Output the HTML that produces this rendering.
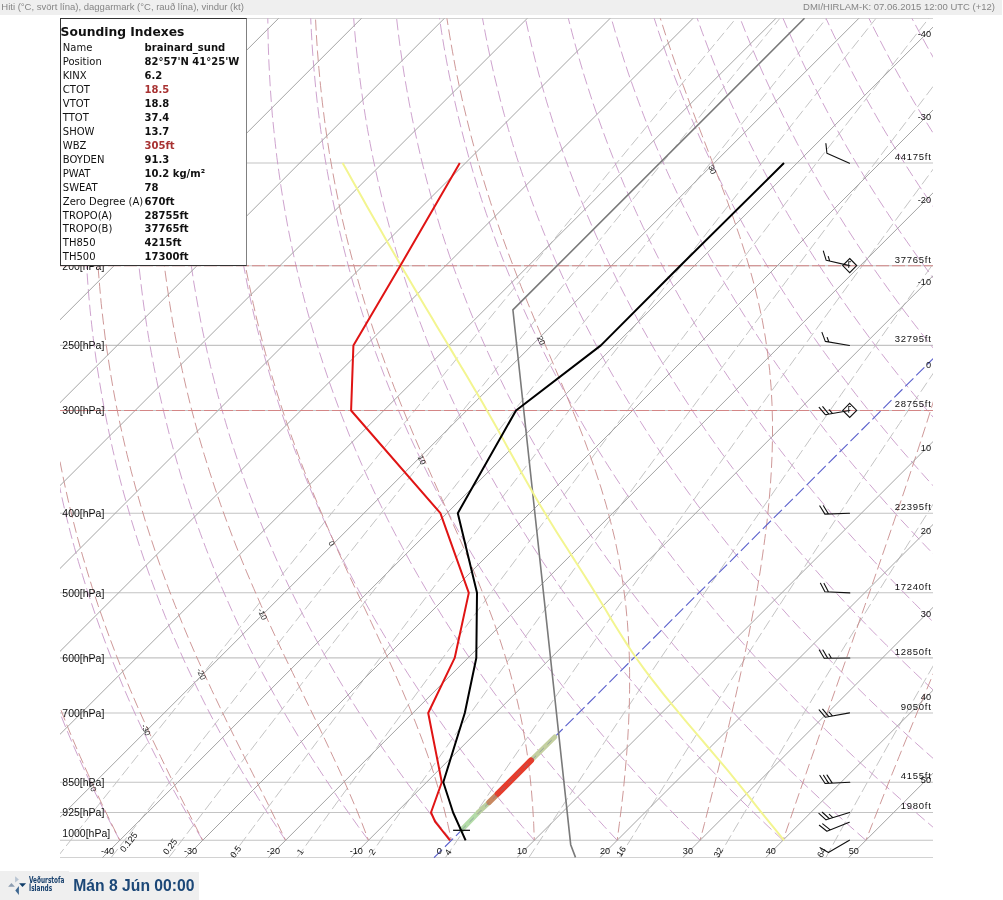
<!DOCTYPE html>
<html><head><meta charset="utf-8"><style>
html,body{margin:0;padding:0;background:#fff;width:1003px;height:900px;overflow:hidden;position:relative}
.hdr{position:absolute;left:0;top:0;width:1001.6px;height:14.5px;background:#efefef}
.hdr span{position:absolute;top:1.2px;font:9.5px/11px "Liberation Sans",Arial,sans-serif;color:#858585;white-space:nowrap}
.box{position:absolute;left:60px;top:18px;width:185px;height:246px;background:#fff;border:1px solid #333;border-right:1.4px solid #808080;z-index:2;font-family:"DejaVu Sans",sans-serif;color:#111}
.ttl{position:absolute;left:-0.4px;top:5.5px;font-weight:bold;font-size:12.3px;line-height:14px;white-space:nowrap}
.r{position:absolute;left:1.8px;height:12px;font-size:10px;line-height:12px;white-space:nowrap}
.r .k{position:absolute;left:0}
.r .v{position:absolute;left:81.8px;font-weight:bold}
.r .v.red{color:#a83232}
.ftl{position:absolute;left:0;top:870.5px;width:69px;height:29.5px;background:#efefef}
.ftr{position:absolute;left:69px;top:871.5px;width:129.5px;height:28.5px;background:#efefef}
.date{position:absolute;left:73.3px;top:877.2px;font:bold 15.7px/18px "Liberation Sans",Arial,sans-serif;color:#1b4777;white-space:nowrap}
.vt{position:absolute;left:29.3px;font:bold 8px/8px "DejaVu Sans Condensed","DejaVu Sans",sans-serif;color:#163f6c;white-space:nowrap;transform-origin:0 0;transform:scaleX(0.8)}
</style></head><body>
<div class="hdr"><span style="left:1.3px">Hiti (°C, svört lína), daggarmark (°C, rauð lína), vindur (kt)</span><span style="right:6.6px">DMI/HIRLAM-K: 07.06.2015 12:00 UTC (+12)</span></div>
<svg width="1003" height="900" viewBox="0 0 1003 900" style="position:absolute;left:0;top:0">
<defs><clipPath id="c"><rect x="60" y="18" width="873" height="840"/></clipPath></defs>
<g clip-path="url(#c)" fill="none">
<path d="M60,857.7 H933 M60,840.3 H933 M60,812.5 H933 M60,782.3 H933 M60,713 H933 M60,657.9 H933 M60,592.8 H933 M60,513.2 H933 M60,410.5 H933 M60,345.4 H933 M60,265.7 H933 M60,163 H933 M60,18.3 H933 " stroke="#c4c4c4" stroke-width="1.1"/>
<path d="M56.9,857.7 L79.7,828.8 L102.6,799.8 L125.6,770.9 L148.5,741.9 L171.6,713 L194.6,684 L217.7,655.1 L240.9,626.1 L264.1,597.2 L287.3,568.3 L310.6,539.3 L333.9,510.4 L357.2,481.4 L380.6,452.5 L404.1,423.5 L427.5,394.6 L451.1,365.6 L474.6,336.7 L498.2,307.7 L521.8,278.8 L545.5,249.8 L569.2,220.9 L592.9,192 L616.7,163 L640.5,134.1 L664.3,105.1 L688.2,76.2 L712.1,47.2 L736,18.3 M111,857.7 L133.4,828.8 L155.9,799.8 L178.4,770.9 L201,741.9 L223.6,713 L246.3,684 L269,655.1 L291.8,626.1 L314.6,597.2 L337.5,568.3 L360.4,539.3 L383.4,510.4 L406.4,481.4 L429.4,452.5 L452.5,423.5 L475.6,394.6 L498.8,365.6 L522,336.7 L545.2,307.7 L568.5,278.8 L591.9,249.8 L615.2,220.9 L638.7,192 L662.1,163 L685.6,134.1 L709.1,105.1 L732.7,76.2 L756.3,47.2 L779.9,18.3 M168.7,857.7 L190.7,828.8 L212.8,799.8 L234.9,770.9 L257,741.9 L279.2,713 L301.5,684 L323.8,655.1 L346.1,626.1 L368.5,597.2 L391,568.3 L413.5,539.3 L436.1,510.4 L458.7,481.4 L481.3,452.5 L504,423.5 L526.8,394.6 L549.6,365.6 L572.4,336.7 L595.3,307.7 L618.2,278.8 L641.2,249.8 L664.2,220.9 L687.3,192 L710.4,163 L733.5,134.1 L756.7,105.1 L779.9,76.2 L803.2,47.2 L826.5,18.3 M230.6,857.7 L252.1,828.8 L273.6,799.8 L295.2,770.9 L316.9,741.9 L338.6,713 L360.4,684 L382.3,655.1 L404.2,626.1 L426.1,597.2 L448.1,568.3 L470.2,539.3 L492.3,510.4 L514.5,481.4 L536.7,452.5 L559,423.5 L581.3,394.6 L603.7,365.6 L626.1,336.7 L648.6,307.7 L671.1,278.8 L693.7,249.8 L716.3,220.9 L739,192 L761.7,163 L784.5,134.1 L807.3,105.1 L830.2,76.2 L853.1,47.2 L876,18.3 M297,857.7 L317.9,828.8 L338.9,799.8 L360,770.9 L381.1,741.9 L402.3,713 L423.6,684 L444.9,655.1 L466.3,626.1 L487.7,597.2 L509.3,568.3 L530.8,539.3 L552.5,510.4 L574.2,481.4 L595.9,452.5 L617.7,423.5 L639.6,394.6 L661.5,365.6 L683.5,336.7 L705.5,307.7 L727.6,278.8 L749.8,249.8 L772,220.9 L794.2,192 L816.5,163 L838.9,134.1 L861.3,105.1 L883.7,76.2 L906.2,47.2 L928.8,18.3 M368.4,857.7 L388.7,828.8 L409.1,799.8 L429.6,770.9 L450.1,741.9 L470.7,713 L491.4,684 L512.1,655.1 L533,626.1 L553.9,597.2 L574.8,568.3 L595.9,539.3 L617,510.4 L638.1,481.4 L659.3,452.5 L680.6,423.5 L702,394.6 L723.4,365.6 L744.9,336.7 L766.4,307.7 L788,278.8 L809.7,249.8 L831.4,220.9 L853.2,192 L875,163 L896.9,134.1 L918.9,105.1 L940.9,76.2 L962.9,47.2 L985.1,18.3 M445.4,857.7 L465.1,828.8 L484.8,799.8 L504.5,770.9 L524.4,741.9 L544.4,713 L564.4,684 L584.5,655.1 L604.7,626.1 L625,597.2 L645.3,568.3 L665.8,539.3 L686.3,510.4 L706.8,481.4 L727.5,452.5 L748.2,423.5 L769,394.6 L789.8,365.6 L810.8,336.7 L831.8,307.7 L852.8,278.8 L874,249.8 L895.1,220.9 L916.4,192 L937.7,163 L959.1,134.1 L980.6,105.1 L1002.1,76.2 L1023.6,47.2 L1045.3,18.3 M528.8,857.7 L547.6,828.8 L566.6,799.8 L585.6,770.9 L604.7,741.9 L624,713 L643.3,684 L662.7,655.1 L682.2,626.1 L701.7,597.2 L721.4,568.3 L741.1,539.3 L761,510.4 L780.9,481.4 L800.9,452.5 L820.9,423.5 L841.1,394.6 L861.3,365.6 L881.6,336.7 L902,307.7 L922.5,278.8 L943,249.8 L963.6,220.9 L984.3,192 L1005,163 L1025.8,134.1 L1046.7,105.1 L1067.7,76.2 L1088.7,47.2 L1109.8,18.3 M619.3,857.7 L637.3,828.8 L655.3,799.8 L673.5,770.9 L691.8,741.9 L710.2,713 L728.7,684 L747.3,655.1 L766,626.1 L784.7,597.2 L803.6,568.3 L822.6,539.3 L841.7,510.4 L860.9,481.4 L880.1,452.5 L899.5,423.5 L918.9,394.6 L938.4,365.6 L958,336.7 L977.7,307.7 L997.5,278.8 L1017.4,249.8 L1037.3,220.9 L1057.4,192 L1077.5,163 L1097.7,134.1 L1117.9,105.1 L1138.3,76.2 L1158.7,47.2 L1179.2,18.3 M717.9,857.7 L734.9,828.8 L752,799.8 L769.2,770.9 L786.5,741.9 L803.9,713 L821.5,684 L839.2,655.1 L857,626.1 L874.9,597.2 L892.9,568.3 L911,539.3 L929.2,510.4 L947.5,481.4 L966,452.5 L984.5,423.5 L1003.1,394.6 L1021.9,365.6 L1040.7,336.7 L1059.6,307.7 L1078.7,278.8 L1097.8,249.8 L1117,220.9 L1136.3,192 L1155.7,163 L1175.2,134.1 L1194.7,105.1 L1214.4,76.2 L1234.1,47.2 L1253.9,18.3 M825.8,857.7 L841.6,828.8 L857.6,799.8 L873.7,770.9 L889.9,741.9 L906.2,713 L922.7,684 L939.4,655.1 L956.1,626.1 L973,597.2 L990,568.3 L1007.2,539.3 L1024.4,510.4 L1041.8,481.4 L1059.3,452.5 L1076.9,423.5 L1094.6,394.6 L1112.5,365.6 L1130.4,336.7 L1148.5,307.7 L1166.7,278.8 L1184.9,249.8 L1203.3,220.9 L1221.8,192 L1240.4,163 L1259,134.1 L1277.8,105.1 L1296.7,76.2 L1315.7,47.2 L1334.7,18.3" stroke="#c4c4c4" stroke-width="1" stroke-dasharray="11,4"/>
<path d="M119.8,840.3 L112.3,826.4 L105,812.4 L98,798.5 L91.2,784.6 L84.7,770.6 L78.3,756.7 L72.2,742.8 L66.3,728.8 L60.7,714.9 L55.2,701 L50,687 L44.9,673.1 L40.1,659.2 L35.5,645.2 L31.1,631.3 L26.9,617.4 L22.9,603.4 L19.1,589.5 L15.5,575.6 L12.1,561.6 L8.9,547.7 L5.9,533.8 L3,519.9 L0.4,505.9 L-2.1,492 L-4.4,478.1 L-6.5,464.1 L-8.4,450.2 L-10.2,436.3 L-11.7,422.3 L-13.1,408.4 L-14.4,394.5 L-15.4,380.5 L-16.3,366.6 L-17.1,352.7 L-17.6,338.7 L-18.1,324.8 L-18.3,310.9 L-18.4,296.9 L-18.4,283 L-18.1,269.1 L-17.8,255.1 L-17.3,241.2 L-16.6,227.3 L-15.8,213.3 L-14.8,199.4 L-13.7,185.5 L-12.5,171.5 L-11.1,157.6 L-9.6,143.7 L-7.9,129.7 L-6.1,115.8 L-4.2,101.9 L-2.1,87.9 L0.1,74 L2.4,60.1 L4.8,46.1 L7.4,32.2 L10.1,18.3 M202.7,840.3 L194.3,826.4 L186.1,812.4 L178.2,798.5 L170.5,784.6 L163.1,770.6 L155.9,756.7 L148.9,742.8 L142.1,728.8 L135.6,714.9 L129.4,701 L123.3,687 L117.5,673.1 L111.8,659.2 L106.4,645.2 L101.2,631.3 L96.3,617.4 L91.5,603.4 L86.9,589.5 L82.6,575.6 L78.4,561.6 L74.5,547.7 L70.7,533.8 L67.2,519.9 L63.8,505.9 L60.7,492 L57.7,478.1 L54.9,464.1 L52.3,450.2 L49.8,436.3 L47.6,422.3 L45.5,408.4 L43.7,394.5 L41.9,380.5 L40.4,366.6 L39,352.7 L37.8,338.7 L36.8,324.8 L36,310.9 L35.3,296.9 L34.7,283 L34.3,269.1 L34.1,255.1 L34.1,241.2 L34.2,227.3 L34.4,213.3 L34.8,199.4 L35.4,185.5 L36.1,171.5 L36.9,157.6 L37.9,143.7 L39,129.7 L40.3,115.8 L41.7,101.9 L43.3,87.9 L45,74 L46.8,60.1 L48.8,46.1 L50.9,32.2 L53.1,18.3 M285.6,840.3 L276.3,826.4 L267.2,812.4 L258.4,798.5 L249.8,784.6 L241.5,770.6 L233.4,756.7 L225.6,742.8 L218,728.8 L210.6,714.9 L203.5,701 L196.6,687 L190,673.1 L183.5,659.2 L177.4,645.2 L171.4,631.3 L165.6,617.4 L160.1,603.4 L154.8,589.5 L149.7,575.6 L144.8,561.6 L140.1,547.7 L135.6,533.8 L131.3,519.9 L127.3,505.9 L123.4,492 L119.7,478.1 L116.2,464.1 L112.9,450.2 L109.8,436.3 L106.9,422.3 L104.2,408.4 L101.7,394.5 L99.3,380.5 L97.1,366.6 L95.2,352.7 L93.3,338.7 L91.7,324.8 L90.2,310.9 L88.9,296.9 L87.8,283 L86.8,269.1 L86,255.1 L85.4,241.2 L84.9,227.3 L84.6,213.3 L84.4,199.4 L84.4,185.5 L84.6,171.5 L84.9,157.6 L85.4,143.7 L86,129.7 L86.7,115.8 L87.6,101.9 L88.7,87.9 L89.9,74 L91.2,60.1 L92.7,46.1 L94.3,32.2 L96,18.3 M368.5,840.3 L358.2,826.4 L348.3,812.4 L338.5,798.5 L329.1,784.6 L319.9,770.6 L310.9,756.7 L302.2,742.8 L293.8,728.8 L285.6,714.9 L277.7,701 L270,687 L262.5,673.1 L255.3,659.2 L248.3,645.2 L241.5,631.3 L235,617.4 L228.7,603.4 L222.6,589.5 L216.7,575.6 L211.1,561.6 L205.7,547.7 L200.5,533.8 L195.5,519.9 L190.7,505.9 L186.1,492 L181.7,478.1 L177.6,464.1 L173.6,450.2 L169.8,436.3 L166.3,422.3 L162.9,408.4 L159.7,394.5 L156.7,380.5 L153.9,366.6 L151.3,352.7 L148.8,338.7 L146.6,324.8 L144.5,310.9 L142.6,296.9 L140.9,283 L139.3,269.1 L137.9,255.1 L136.7,241.2 L135.7,227.3 L134.8,213.3 L134.1,199.4 L133.5,185.5 L133.1,171.5 L132.9,157.6 L132.8,143.7 L132.9,129.7 L133.2,115.8 L133.5,101.9 L134.1,87.9 L134.8,74 L135.6,60.1 L136.6,46.1 L137.7,32.2 L139,18.3 M451.4,840.3 L440.2,826.4 L429.3,812.4 L418.7,798.5 L408.4,784.6 L398.3,770.6 L388.5,756.7 L378.9,742.8 L369.6,728.8 L360.6,714.9 L351.8,701 L343.3,687 L335,673.1 L327,659.2 L319.2,645.2 L311.6,631.3 L304.3,617.4 L297.3,603.4 L290.4,589.5 L283.8,575.6 L277.4,561.6 L271.3,547.7 L265.3,533.8 L259.6,519.9 L254.1,505.9 L248.8,492 L243.8,478.1 L238.9,464.1 L234.3,450.2 L229.8,436.3 L225.6,422.3 L221.6,408.4 L217.7,394.5 L214.1,380.5 L210.6,366.6 L207.4,352.7 L204.3,338.7 L201.4,324.8 L198.8,310.9 L196.3,296.9 L193.9,283 L191.8,269.1 L189.8,255.1 L188,241.2 L186.4,227.3 L185,213.3 L183.7,199.4 L182.6,185.5 L181.7,171.5 L180.9,157.6 L180.3,143.7 L179.9,129.7 L179.6,115.8 L179.4,101.9 L179.5,87.9 L179.7,74 L180,60.1 L180.5,46.1 L181.1,32.2 L181.9,18.3 M534.3,840.3 L522.2,826.4 L510.4,812.4 L498.9,798.5 L487.6,784.6 L476.7,770.6 L466,756.7 L455.6,742.8 L445.4,728.8 L435.6,714.9 L426,701 L416.6,687 L407.5,673.1 L398.7,659.2 L390.1,645.2 L381.8,631.3 L373.7,617.4 L365.8,603.4 L358.2,589.5 L350.9,575.6 L343.8,561.6 L336.9,547.7 L330.2,533.8 L323.8,519.9 L317.6,505.9 L311.6,492 L305.8,478.1 L300.3,464.1 L294.9,450.2 L289.8,436.3 L284.9,422.3 L280.2,408.4 L275.7,394.5 L271.5,380.5 L267.4,366.6 L263.5,352.7 L259.8,338.7 L256.3,324.8 L253,310.9 L249.9,296.9 L247,283 L244.3,269.1 L241.7,255.1 L239.4,241.2 L237.2,227.3 L235.2,213.3 L233.4,199.4 L231.7,185.5 L230.2,171.5 L228.9,157.6 L227.8,143.7 L226.8,129.7 L226,115.8 L225.4,101.9 L224.9,87.9 L224.6,74 L224.4,60.1 L224.4,46.1 L224.5,32.2 L224.8,18.3 M617.2,840.3 L604.2,826.4 L591.5,812.4 L579.1,798.5 L566.9,784.6 L555.1,770.6 L543.5,756.7 L532.3,742.8 L521.3,728.8 L510.6,714.9 L500.1,701 L489.9,687 L480,673.1 L470.4,659.2 L461,645.2 L451.9,631.3 L443,617.4 L434.4,603.4 L426.1,589.5 L418,575.6 L410.1,561.6 L402.5,547.7 L395.1,533.8 L387.9,519.9 L381,505.9 L374.3,492 L367.9,478.1 L361.6,464.1 L355.6,450.2 L349.8,436.3 L344.3,422.3 L338.9,408.4 L333.8,394.5 L328.8,380.5 L324.1,366.6 L319.6,352.7 L315.3,338.7 L311.2,324.8 L307.3,310.9 L303.6,296.9 L300.1,283 L296.8,269.1 L293.6,255.1 L290.7,241.2 L287.9,227.3 L285.4,213.3 L283,199.4 L280.8,185.5 L278.8,171.5 L276.9,157.6 L275.3,143.7 L273.8,129.7 L272.4,115.8 L271.3,101.9 L270.3,87.9 L269.5,74 L268.8,60.1 L268.3,46.1 L268,32.2 L267.8,18.3 M700.1,840.3 L686.2,826.4 L672.5,812.4 L659.2,798.5 L646.2,784.6 L633.5,770.6 L621.1,756.7 L608.9,742.8 L597.1,728.8 L585.5,714.9 L574.3,701 L563.3,687 L552.6,673.1 L542.1,659.2 L531.9,645.2 L522,631.3 L512.4,617.4 L503,603.4 L493.9,589.5 L485,575.6 L476.4,561.6 L468.1,547.7 L459.9,533.8 L452.1,519.9 L444.4,505.9 L437,492 L429.9,478.1 L423,464.1 L416.3,450.2 L409.8,436.3 L403.6,422.3 L397.6,408.4 L391.8,394.5 L386.2,380.5 L380.9,366.6 L375.7,352.7 L370.8,338.7 L366.1,324.8 L361.6,310.9 L357.3,296.9 L353.1,283 L349.2,269.1 L345.5,255.1 L342,241.2 L338.7,227.3 L335.6,213.3 L332.6,199.4 L329.9,185.5 L327.3,171.5 L324.9,157.6 L322.7,143.7 L320.7,129.7 L318.9,115.8 L317.2,101.9 L315.7,87.9 L314.4,74 L313.2,60.1 L312.2,46.1 L311.4,32.2 L310.7,18.3 M783,840.3 L768.1,826.4 L753.6,812.4 L739.4,798.5 L725.5,784.6 L711.9,770.6 L698.6,756.7 L685.6,742.8 L672.9,728.8 L660.5,714.9 L648.4,701 L636.6,687 L625.1,673.1 L613.8,659.2 L602.9,645.2 L592.2,631.3 L581.8,617.4 L571.6,603.4 L561.7,589.5 L552.1,575.6 L542.7,561.6 L533.6,547.7 L524.8,533.8 L516.2,519.9 L507.9,505.9 L499.8,492 L491.9,478.1 L484.3,464.1 L477,450.2 L469.8,436.3 L462.9,422.3 L456.3,408.4 L449.8,394.5 L443.6,380.5 L437.6,366.6 L431.8,352.7 L426.3,338.7 L421,324.8 L415.8,310.9 L410.9,296.9 L406.2,283 L401.7,269.1 L397.4,255.1 L393.3,241.2 L389.5,227.3 L385.8,213.3 L382.3,199.4 L379,185.5 L375.9,171.5 L372.9,157.6 L370.2,143.7 L367.6,129.7 L365.3,115.8 L363.1,101.9 L361.1,87.9 L359.3,74 L357.6,60.1 L356.1,46.1 L354.8,32.2 L353.7,18.3 M865.9,840.3 L850.1,826.4 L834.7,812.4 L819.6,798.5 L804.8,784.6 L790.3,770.6 L776.1,756.7 L762.3,742.8 L748.7,728.8 L735.5,714.9 L722.6,701 L709.9,687 L697.6,673.1 L685.5,659.2 L673.8,645.2 L662.3,631.3 L651.1,617.4 L640.2,603.4 L629.5,589.5 L619.2,575.6 L609.1,561.6 L599.2,547.7 L589.7,533.8 L580.4,519.9 L571.3,505.9 L562.5,492 L554,478.1 L545.7,464.1 L537.6,450.2 L529.8,436.3 L522.3,422.3 L514.9,408.4 L507.8,394.5 L501,380.5 L494.4,366.6 L488,352.7 L481.8,338.7 L475.8,324.8 L470.1,310.9 L464.6,296.9 L459.3,283 L454.2,269.1 L449.3,255.1 L444.7,241.2 L440.2,227.3 L436,213.3 L431.9,199.4 L428.1,185.5 L424.4,171.5 L420.9,157.6 L417.7,143.7 L414.6,129.7 L411.7,115.8 L409,101.9 L406.5,87.9 L404.1,74 L402,60.1 L400,46.1 L398.2,32.2 L396.6,18.3 M948.8,840.3 L932.1,826.4 L915.8,812.4 L899.7,798.5 L884.1,784.6 L868.7,770.6 L853.7,756.7 L839,742.8 L824.6,728.8 L810.5,714.9 L796.7,701 L783.3,687 L770.1,673.1 L757.3,659.2 L744.7,645.2 L732.4,631.3 L720.5,617.4 L708.8,603.4 L697.4,589.5 L686.3,575.6 L675.4,561.6 L664.8,547.7 L654.5,533.8 L644.5,519.9 L634.7,505.9 L625.2,492 L616,478.1 L607,464.1 L598.3,450.2 L589.8,436.3 L581.6,422.3 L573.6,408.4 L565.9,394.5 L558.4,380.5 L551.1,366.6 L544.1,352.7 L537.3,338.7 L530.7,324.8 L524.4,310.9 L518.3,296.9 L512.4,283 L506.7,269.1 L501.2,255.1 L496,241.2 L491,227.3 L486.2,213.3 L481.5,199.4 L477.1,185.5 L472.9,171.5 L468.9,157.6 L465.1,143.7 L461.5,129.7 L458.1,115.8 L454.9,101.9 L451.9,87.9 L449,74 L446.4,60.1 L443.9,46.1 L441.6,32.2 L439.5,18.3 M1031.7,840.3 L1014.1,826.4 L996.8,812.4 L979.9,798.5 L963.3,784.6 L947.1,770.6 L931.2,756.7 L915.6,742.8 L900.4,728.8 L885.5,714.9 L870.9,701 L856.6,687 L842.6,673.1 L829,659.2 L815.6,645.2 L802.6,631.3 L789.8,617.4 L777.4,603.4 L765.2,589.5 L753.3,575.6 L741.7,561.6 L730.4,547.7 L719.4,533.8 L708.7,519.9 L698.2,505.9 L688,492 L678,478.1 L668.4,464.1 L659,450.2 L649.8,436.3 L640.9,422.3 L632.3,408.4 L623.9,394.5 L615.7,380.5 L607.8,366.6 L600.2,352.7 L592.8,338.7 L585.6,324.8 L578.6,310.9 L571.9,296.9 L565.4,283 L559.2,269.1 L553.1,255.1 L547.3,241.2 L541.7,227.3 L536.3,213.3 L531.2,199.4 L526.2,185.5 L521.5,171.5 L516.9,157.6 L512.6,143.7 L508.5,129.7 L504.6,115.8 L500.8,101.9 L497.3,87.9 L493.9,74 L490.8,60.1 L487.8,46.1 L485.1,32.2 L482.5,18.3 M1114.6,840.3 L1096.1,826.4 L1077.9,812.4 L1060.1,798.5 L1042.6,784.6 L1025.5,770.6 L1008.7,756.7 L992.3,742.8 L976.2,728.8 L960.5,714.9 L945,701 L929.9,687 L915.2,673.1 L900.7,659.2 L886.5,645.2 L872.7,631.3 L859.2,617.4 L845.9,603.4 L833,589.5 L820.4,575.6 L808.1,561.6 L796,547.7 L784.3,533.8 L772.8,519.9 L761.6,505.9 L750.7,492 L740.1,478.1 L729.7,464.1 L719.6,450.2 L709.8,436.3 L700.2,422.3 L690.9,408.4 L681.9,394.5 L673.1,380.5 L664.6,366.6 L656.3,352.7 L648.3,338.7 L640.5,324.8 L632.9,310.9 L625.6,296.9 L618.5,283 L611.7,269.1 L605,255.1 L598.6,241.2 L592.5,227.3 L586.5,213.3 L580.8,199.4 L575.3,185.5 L570,171.5 L564.9,157.6 L560.1,143.7 L555.4,129.7 L551,115.8 L546.7,101.9 L542.7,87.9 L538.8,74 L535.2,60.1 L531.7,46.1 L528.5,32.2 L525.4,18.3 M1197.5,840.3 L1178.1,826.4 L1159,812.4 L1140.3,798.5 L1121.9,784.6 L1103.9,770.6 L1086.3,756.7 L1069,742.8 L1052.1,728.8 L1035.5,714.9 L1019.2,701 L1003.3,687 L987.7,673.1 L972.4,659.2 L957.5,645.2 L942.8,631.3 L928.5,617.4 L914.5,603.4 L900.8,589.5 L887.5,575.6 L874.4,561.6 L861.6,547.7 L849.1,533.8 L837,519.9 L825.1,505.9 L813.4,492 L802.1,478.1 L791.1,464.1 L780.3,450.2 L769.8,436.3 L759.6,422.3 L749.6,408.4 L739.9,394.5 L730.5,380.5 L721.3,366.6 L712.4,352.7 L703.7,338.7 L695.3,324.8 L687.2,310.9 L679.3,296.9 L671.6,283 L664.1,269.1 L656.9,255.1 L650,241.2 L643.2,227.3 L636.7,213.3 L630.5,199.4 L624.4,185.5 L618.6,171.5 L613,157.6 L607.6,143.7 L602.4,129.7 L597.4,115.8 L592.6,101.9 L588.1,87.9 L583.7,74 L579.6,60.1 L575.6,46.1 L571.9,32.2 L568.3,18.3 M1280.4,840.3 L1260,826.4 L1240,812.4 L1220.4,798.5 L1201.2,784.6 L1182.3,770.6 L1163.8,756.7 L1145.7,742.8 L1127.9,728.8 L1110.4,714.9 L1093.3,701 L1076.6,687 L1060.2,673.1 L1044.1,659.2 L1028.4,645.2 L1013,631.3 L997.9,617.4 L983.1,603.4 L968.7,589.5 L954.5,575.6 L940.7,561.6 L927.2,547.7 L914,533.8 L901.1,519.9 L888.5,505.9 L876.2,492 L864.2,478.1 L852.4,464.1 L841,450.2 L829.8,436.3 L818.9,422.3 L808.3,408.4 L797.9,394.5 L787.9,380.5 L778.1,366.6 L768.5,352.7 L759.2,338.7 L750.2,324.8 L741.4,310.9 L732.9,296.9 L724.6,283 L716.6,269.1 L708.8,255.1 L701.3,241.2 L694,227.3 L686.9,213.3 L680.1,199.4 L673.5,185.5 L667.1,171.5 L661,157.6 L655,143.7 L649.3,129.7 L643.8,115.8 L638.6,101.9 L633.5,87.9 L628.6,74 L624,60.1 L619.6,46.1 L615.3,32.2 L611.3,18.3 M1363.3,840.3 L1342,826.4 L1321.1,812.4 L1300.6,798.5 L1280.5,784.6 L1260.7,770.6 L1241.4,756.7 L1222.3,742.8 L1203.7,728.8 L1185.4,714.9 L1167.5,701 L1149.9,687 L1132.7,673.1 L1115.8,659.2 L1099.3,645.2 L1083.1,631.3 L1067.2,617.4 L1051.7,603.4 L1036.5,589.5 L1021.6,575.6 L1007.1,561.6 L992.8,547.7 L978.9,533.8 L965.2,519.9 L951.9,505.9 L938.9,492 L926.2,478.1 L913.8,464.1 L901.6,450.2 L889.8,436.3 L878.2,422.3 L867,408.4 L856,394.5 L845.3,380.5 L834.8,366.6 L824.6,352.7 L814.7,338.7 L805.1,324.8 L795.7,310.9 L786.6,296.9 L777.7,283 L769.1,269.1 L760.7,255.1 L752.6,241.2 L744.7,227.3 L737.1,213.3 L729.7,199.4 L722.6,185.5 L715.7,171.5 L709,157.6 L702.5,143.7 L696.3,129.7 L690.3,115.8 L684.5,101.9 L678.9,87.9 L673.5,74 L668.4,60.1 L663.5,46.1 L658.7,32.2 L654.2,18.3 M1446.2,840.3 L1424,826.4 L1402.2,812.4 L1380.8,798.5 L1359.8,784.6 L1339.1,770.6 L1318.9,756.7 L1299,742.8 L1279.5,728.8 L1260.4,714.9 L1241.7,701 L1223.3,687 L1205.2,673.1 L1187.5,659.2 L1170.2,645.2 L1153.2,631.3 L1136.6,617.4 L1120.3,603.4 L1104.3,589.5 L1088.7,575.6 L1073.4,561.6 L1058.4,547.7 L1043.7,533.8 L1029.4,519.9 L1015.4,505.9 L1001.6,492 L988.2,478.1 L975.1,464.1 L962.3,450.2 L949.8,436.3 L937.6,422.3 L925.6,408.4 L914,394.5 L902.6,380.5 L891.6,366.6 L880.8,352.7 L870.2,338.7 L860,324.8 L850,310.9 L840.2,296.9 L830.8,283 L821.6,269.1 L812.6,255.1 L803.9,241.2 L795.5,227.3 L787.3,213.3 L779.4,199.4 L771.7,185.5 L764.2,171.5 L757,157.6 L750,143.7 L743.2,129.7 L736.7,115.8 L730.4,101.9 L724.3,87.9 L718.4,74 L712.8,60.1 L707.4,46.1 L702.2,32.2 L697.2,18.3 M1529.1,840.3 L1506,826.4 L1483.3,812.4 L1461,798.5 L1439,784.6 L1417.5,770.6 L1396.4,756.7 L1375.7,742.8 L1355.4,728.8 L1335.4,714.9 L1315.8,701 L1296.6,687 L1277.7,673.1 L1259.3,659.2 L1241.1,645.2 L1223.4,631.3 L1205.9,617.4 L1188.9,603.4 L1172.2,589.5 L1155.8,575.6 L1139.7,561.6 L1124,547.7 L1108.6,533.8 L1093.5,519.9 L1078.8,505.9 L1064.4,492 L1050.3,478.1 L1036.5,464.1 L1023,450.2 L1009.8,436.3 L996.9,422.3 L984.3,408.4 L972,394.5 L960,380.5 L948.3,366.6 L936.9,352.7 L925.7,338.7 L914.8,324.8 L904.2,310.9 L893.9,296.9 L883.9,283 L874.1,269.1 L864.5,255.1 L855.3,241.2 L846.3,227.3 L837.5,213.3 L829,199.4 L820.7,185.5 L812.7,171.5 L805,157.6 L797.4,143.7 L790.2,129.7 L783.1,115.8 L776.3,101.9 L769.7,87.9 L763.3,74 L757.2,60.1 L751.3,46.1 L745.6,32.2 L740.1,18.3 M1612,840.3 L1588,826.4 L1564.3,812.4 L1541.1,798.5 L1518.3,784.6 L1495.9,770.6 L1474,756.7 L1452.4,742.8 L1431.2,728.8 L1410.4,714.9 L1390,701 L1369.9,687 L1350.3,673.1 L1331,659.2 L1312.1,645.2 L1293.5,631.3 L1275.3,617.4 L1257.5,603.4 L1240,589.5 L1222.8,575.6 L1206,561.6 L1189.6,547.7 L1173.5,533.8 L1157.7,519.9 L1142.2,505.9 L1127.1,492 L1112.3,478.1 L1097.8,464.1 L1083.6,450.2 L1069.8,436.3 L1056.2,422.3 L1043,408.4 L1030,394.5 L1017.4,380.5 L1005,366.6 L993,352.7 L981.2,338.7 L969.7,324.8 L958.5,310.9 L947.6,296.9 L936.9,283 L926.6,269.1 L916.4,255.1 L906.6,241.2 L897,227.3 L887.7,213.3 L878.6,199.4 L869.8,185.5 L861.3,171.5 L853,157.6 L844.9,143.7 L837.1,129.7 L829.5,115.8 L822.2,101.9 L815.1,87.9 L808.2,74 L801.6,60.1 L795.2,46.1 L789,32.2 L783,18.3 M1694.9,840.3 L1669.9,826.4 L1645.4,812.4 L1621.3,798.5 L1597.6,784.6 L1574.3,770.6 L1551.5,756.7 L1529,742.8 L1507,728.8 L1485.4,714.9 L1464.1,701 L1443.3,687 L1422.8,673.1 L1402.7,659.2 L1383,645.2 L1363.6,631.3 L1344.7,617.4 L1326,603.4 L1307.8,589.5 L1289.9,575.6 L1272.4,561.6 L1255.2,547.7 L1238.3,533.8 L1221.8,519.9 L1205.7,505.9 L1189.8,492 L1174.3,478.1 L1159.2,464.1 L1144.3,450.2 L1129.8,436.3 L1115.6,422.3 L1101.7,408.4 L1088.1,394.5 L1074.8,380.5 L1061.8,366.6 L1049.1,352.7 L1036.7,338.7 L1024.6,324.8 L1012.8,310.9 L1001.2,296.9 L990,283 L979,269.1 L968.3,255.1 L957.9,241.2 L947.8,227.3 L937.9,213.3 L928.3,199.4 L918.9,185.5 L909.8,171.5 L901,157.6 L892.4,143.7 L884,129.7 L876,115.8 L868.1,101.9 L860.5,87.9 L853.1,74 L846,60.1 L839.1,46.1 L832.4,32.2 L826,18.3 M1777.8,840.3 L1751.9,826.4 L1726.5,812.4 L1701.5,798.5 L1676.9,784.6 L1652.8,770.6 L1629,756.7 L1605.7,742.8 L1582.8,728.8 L1560.3,714.9 L1538.3,701 L1516.6,687 L1495.3,673.1 L1474.4,659.2 L1453.9,645.2 L1433.8,631.3 L1414,617.4 L1394.6,603.4 L1375.6,589.5 L1357,575.6 L1338.7,561.6 L1320.8,547.7 L1303.2,533.8 L1286,519.9 L1269.1,505.9 L1252.6,492 L1236.4,478.1 L1220.5,464.1 L1205,450.2 L1189.8,436.3 L1174.9,422.3 L1160.3,408.4 L1146.1,394.5 L1132.2,380.5 L1118.5,366.6 L1105.2,352.7 L1092.2,338.7 L1079.5,324.8 L1067,310.9 L1054.9,296.9 L1043.1,283 L1031.5,269.1 L1020.2,255.1 L1009.2,241.2 L998.5,227.3 L988.1,213.3 L977.9,199.4 L968,185.5 L958.4,171.5 L949,157.6 L939.9,143.7 L931,129.7 L922.4,115.8 L914,101.9 L905.9,87.9 L898,74 L890.4,60.1 L883,46.1 L875.8,32.2 L868.9,18.3 M1860.7,840.3 L1833.9,826.4 L1807.5,812.4 L1781.6,798.5 L1756.2,784.6 L1731.2,770.6 L1706.6,756.7 L1682.4,742.8 L1658.7,728.8 L1635.3,714.9 L1612.4,701 L1589.9,687 L1567.8,673.1 L1546.1,659.2 L1524.8,645.2 L1503.9,631.3 L1483.4,617.4 L1463.2,603.4 L1443.5,589.5 L1424.1,575.6 L1405,561.6 L1386.4,547.7 L1368.1,533.8 L1350.1,519.9 L1332.5,505.9 L1315.3,492 L1298.4,478.1 L1281.9,464.1 L1265.7,450.2 L1249.8,436.3 L1234.2,422.3 L1219,408.4 L1204.1,394.5 L1189.5,380.5 L1175.3,366.6 L1161.3,352.7 L1147.7,338.7 L1134.3,324.8 L1121.3,310.9 L1108.6,296.9 L1096.1,283 L1084,269.1 L1072.1,255.1 L1060.6,241.2 L1049.3,227.3 L1038.3,213.3 L1027.5,199.4 L1017.1,185.5 L1006.9,171.5 L997,157.6 L987.3,143.7 L977.9,129.7 L968.8,115.8 L959.9,101.9 L951.3,87.9 L942.9,74 L934.8,60.1 L926.9,46.1 L919.3,32.2 L911.9,18.3 M1943.6,840.3 L1915.9,826.4 L1888.6,812.4 L1861.8,798.5 L1835.5,784.6 L1809.6,770.6 L1784.1,756.7 L1759.1,742.8 L1734.5,728.8 L1710.3,714.9 L1686.6,701 L1663.2,687 L1640.3,673.1 L1617.8,659.2 L1595.7,645.2 L1574,631.3 L1552.7,617.4 L1531.8,603.4 L1511.3,589.5 L1491.1,575.6 L1471.4,561.6 L1452,547.7 L1432.9,533.8 L1414.3,519.9 L1396,505.9 L1378,492 L1360.5,478.1 L1343.2,464.1 L1326.3,450.2 L1309.8,436.3 L1293.6,422.3 L1277.7,408.4 L1262.1,394.5 L1246.9,380.5 L1232,366.6 L1217.4,352.7 L1203.2,338.7 L1189.2,324.8 L1175.6,310.9 L1162.2,296.9 L1149.2,283 L1136.5,269.1 L1124,255.1 L1111.9,241.2 L1100,227.3 L1088.5,213.3 L1077.2,199.4 L1066.2,185.5 L1055.4,171.5 L1045,157.6 L1034.8,143.7 L1024.9,129.7 L1015.2,115.8 L1005.8,101.9 L996.7,87.9 L987.8,74 L979.2,60.1 L970.8,46.1 L962.7,32.2 L954.8,18.3 M2026.5,840.3 L1997.9,826.4 L1969.7,812.4 L1942,798.5 L1914.8,784.6 L1888,770.6 L1861.6,756.7 L1835.8,742.8 L1810.3,728.8 L1785.3,714.9 L1760.7,701 L1736.6,687 L1712.9,673.1 L1689.5,659.2 L1666.6,645.2 L1644.2,631.3 L1622.1,617.4 L1600.4,603.4 L1579.1,589.5 L1558.2,575.6 L1537.7,561.6 L1517.6,547.7 L1497.8,533.8 L1478.4,519.9 L1459.4,505.9 L1440.8,492 L1422.5,478.1 L1404.6,464.1 L1387,450.2 L1369.8,436.3 L1352.9,422.3 L1336.4,408.4 L1320.2,394.5 L1304.3,380.5 L1288.8,366.6 L1273.5,352.7 L1258.7,338.7 L1244.1,324.8 L1229.9,310.9 L1215.9,296.9 L1202.3,283 L1189,269.1 L1175.9,255.1 L1163.2,241.2 L1150.8,227.3 L1138.7,213.3 L1126.8,199.4 L1115.3,185.5 L1104,171.5 L1093,157.6 L1082.3,143.7 L1071.8,129.7 L1061.7,115.8 L1051.7,101.9 L1042.1,87.9 L1032.7,74 L1023.6,60.1 L1014.7,46.1 L1006.1,32.2 L997.7,18.3 M2109.4,840.3 L2079.8,826.4 L2050.8,812.4 L2022.2,798.5 L1994,784.6 L1966.4,770.6 L1939.2,756.7 L1912.4,742.8 L1886.1,728.8 L1860.3,714.9 L1834.9,701 L1809.9,687 L1785.4,673.1 L1761.3,659.2 L1737.6,645.2 L1714.3,631.3 L1691.4,617.4 L1669,603.4 L1646.9,589.5 L1625.3,575.6 L1604,561.6 L1583.2,547.7 L1562.7,533.8 L1542.6,519.9 L1522.9,505.9 L1503.5,492 L1484.5,478.1 L1465.9,464.1 L1447.7,450.2 L1429.8,436.3 L1412.2,422.3 L1395,408.4 L1378.2,394.5 L1361.7,380.5 L1345.5,366.6 L1329.7,352.7 L1314.2,338.7 L1299,324.8 L1284.1,310.9 L1269.6,296.9 L1255.4,283 L1241.4,269.1 L1227.8,255.1 L1214.6,241.2 L1201.6,227.3 L1188.9,213.3 L1176.5,199.4 L1164.4,185.5 L1152.5,171.5 L1141,157.6 L1129.7,143.7 L1118.8,129.7 L1108.1,115.8 L1097.7,101.9 L1087.5,87.9 L1077.6,74 L1068,60.1 L1058.6,46.1 L1049.5,32.2 L1040.7,18.3" stroke="#c898c8" stroke-width="0.9" stroke-dasharray="11.3,4.4"/>
<path d="M119.8,840.3 L111.4,823.5 L103.2,806.7 L95.3,790 L87.6,773.2 L80.1,756.4 L72.9,739.6 L66,722.9 L59.4,706.1 L53.1,689.3 L47.1,672.5 L41.3,655.8 L35.9,639 L30.7,622.2 L25.9,605.4 L21.3,588.7 L17,571.9 L12.9,555.1 L9.2,538.3 L5.7,521.6 L2.5,504.8 L-0.5,488 L-3.1,471.2 L-5.6,454.5 L-7.7,437.7 L-9.7,420.9 L-11.3,404.1 L-12.7,387.3 L-13.9,370.6 L-14.9,353.8 L-15.6,337 L-16,320.2 L-16.3,303.5 L-16.3,286.7 L-16.1,269.9 L-15.6,253.1 L-15,236.4 L-14.1,219.6 L-13.1,202.8 L-11.8,186 L-10.3,169.3 L-8.6,152.5 L-6.7,135.7 L-4.6,118.9 L-2.3,102.2 L0.2,85.4 L2.9,68.6 L5.7,51.8 L13.1,35.1 L29.9,18.3 M202.7,840.3 L194.1,823.5 L185.5,806.7 L177,790 L168.7,773.2 L160.5,756.4 L152.5,739.6 L144.8,722.9 L137.3,706.1 L130.1,689.3 L123.1,672.5 L116.5,655.8 L110.1,639 L104,622.2 L98.1,605.4 L92.6,588.7 L87.4,571.9 L82.4,555.1 L77.7,538.3 L73.4,521.6 L69.2,504.8 L65.4,488 L61.9,471.2 L58.6,454.5 L55.5,437.7 L52.8,420.9 L50.3,404.1 L48,387.3 L46.1,370.6 L44.3,353.8 L42.8,337 L41.6,320.2 L40.6,303.5 L39.8,286.7 L39.3,269.9 L39,253.1 L38.9,236.4 L39,219.6 L39.4,202.8 L40,186 L40.8,169.3 L41.8,152.5 L43,135.7 L44.5,118.9 L46.1,102.2 L47.9,85.4 L50,68.6 L52.2,51.8 L54.6,35.1 L57.2,18.3 M285.6,840.3 L277.5,823.5 L269.3,806.7 L260.9,790 L252.5,773.2 L244.1,756.4 L235.7,739.6 L227.5,722.9 L219.4,706.1 L211.4,689.3 L203.7,672.5 L196.1,655.8 L188.8,639 L181.8,622.2 L175.1,605.4 L168.6,588.7 L162.4,571.9 L156.5,555.1 L150.9,538.3 L145.5,521.6 L140.5,504.8 L135.7,488 L131.2,471.2 L127,454.5 L123.1,437.7 L119.4,420.9 L116,404.1 L112.9,387.3 L110.1,370.6 L107.5,353.8 L105.1,337 L103.1,320.2 L101.2,303.5 L99.7,286.7 L98.3,269.9 L97.2,253.1 L96.4,236.4 L95.8,219.6 L95.4,202.8 L95.2,186 L95.3,169.3 L95.6,152.5 L96.1,135.7 L96.8,118.9 L97.7,102.2 L98.9,85.4 L100.2,68.6 L101.8,51.8 L103.6,35.1 L105.5,18.3 M368.5,840.3 L362.1,823.5 L355.3,806.7 L348.1,790 L340.7,773.2 L332.9,756.4 L325,739.6 L317,722.9 L308.8,706.1 L300.6,689.3 L292.5,672.5 L284.4,655.8 L276.5,639 L268.7,622.2 L261.1,605.4 L253.8,588.7 L246.6,571.9 L239.7,555.1 L233.1,538.3 L226.8,521.6 L220.7,504.8 L214.9,488 L209.4,471.2 L204.2,454.5 L199.2,437.7 L194.6,420.9 L190.2,404.1 L186.1,387.3 L182.3,370.6 L178.7,353.8 L175.4,337 L172.4,320.2 L169.7,303.5 L167.2,286.7 L164.9,269.9 L163,253.1 L161.2,236.4 L159.7,219.6 L158.5,202.8 L157.5,186 L156.7,169.3 L156.2,152.5 L155.9,135.7 L155.8,118.9 L156,102.2 L156.4,85.4 L157,68.6 L157.8,51.8 L158.8,35.1 L160,18.3 M451.4,840.3 L447.7,823.5 L443.5,806.7 L438.8,790 L433.7,773.2 L428.1,756.4 L422.1,739.6 L415.7,722.9 L408.9,706.1 L401.8,689.3 L394.4,672.5 L386.8,655.8 L379,639 L371.2,622.2 L363.3,605.4 L355.4,588.7 L347.6,571.9 L339.9,555.1 L332.4,538.3 L325.1,521.6 L318,504.8 L311.1,488 L304.4,471.2 L298.1,454.5 L292,437.7 L286.1,420.9 L280.6,404.1 L275.3,387.3 L270.3,370.6 L265.6,353.8 L261.2,337 L257,320.2 L253.2,303.5 L249.6,286.7 L246.2,269.9 L243.2,253.1 L240.4,236.4 L237.8,219.6 L235.6,202.8 L233.5,186 L231.8,169.3 L230.2,152.5 L228.9,135.7 L227.9,118.9 L227.1,102.2 L226.5,85.4 L226.2,68.6 L226,51.8 L226.2,35.1 L226.5,18.3 M534.3,840.3 L533.7,823.5 L532.7,806.7 L531.4,790 L529.7,773.2 L527.6,756.4 L525,739.6 L522,722.9 L518.5,706.1 L514.5,689.3 L510.1,672.5 L505.1,655.8 L499.7,639 L493.9,622.2 L487.6,605.4 L481,588.7 L474.1,571.9 L466.9,555.1 L459.5,538.3 L452,521.6 L444.5,504.8 L437,488 L429.5,471.2 L422.1,454.5 L414.8,437.7 L407.8,420.9 L400.9,404.1 L394.2,387.3 L387.8,370.6 L381.7,353.8 L375.8,337 L370.2,320.2 L364.9,303.5 L359.8,286.7 L355.1,269.9 L350.6,253.1 L346.4,236.4 L342.4,219.6 L338.7,202.8 L335.3,186 L332.2,169.3 L329.3,152.5 L326.7,135.7 L324.4,118.9 L322.3,102.2 L320.5,85.4 L318.9,68.6 L317.5,51.8 L316.4,35.1 L315.5,18.3 M617.2,840.3 L619.4,823.5 L621.5,806.7 L623.4,790 L625,773.2 L626.5,756.4 L627.7,739.6 L628.6,722.9 L629.3,706.1 L629.6,689.3 L629.6,672.5 L629.3,655.8 L628.5,639 L627.4,622.2 L625.8,605.4 L623.7,588.7 L621.2,571.9 L618.2,555.1 L614.7,538.3 L610.6,521.6 L606.1,504.8 L601.1,488 L595.6,471.2 L589.7,454.5 L583.5,437.7 L576.9,420.9 L570.1,404.1 L563.2,387.3 L556.1,370.6 L549,353.8 L541.9,337 L534.9,320.2 L528,303.5 L521.2,286.7 L514.7,269.9 L508.3,253.1 L502.2,236.4 L496.3,219.6 L490.7,202.8 L485.4,186 L480.3,169.3 L475.5,152.5 L471,135.7 L466.8,118.9 L462.8,102.2 L459.1,85.4 L455.6,68.6 L452.5,51.8 L449.6,35.1 L446.9,18.3 M700.1,840.3 L704.5,823.5 L708.8,806.7 L713,790 L717.3,773.2 L721.4,756.4 L725.5,739.6 L729.5,722.9 L733.4,706.1 L737.2,689.3 L740.9,672.5 L744.5,655.8 L748,639 L751.2,622.2 L754.4,605.4 L757.3,588.7 L760.1,571.9 L762.6,555.1 L764.9,538.3 L767,521.6 L768.7,504.8 L770.2,488 L771.3,471.2 L772.1,454.5 L772.5,437.7 L772.5,420.9 L772,404.1 L771.1,387.3 L769.7,370.6 L767.7,353.8 L765.3,337 L762.3,320.2 L758.7,303.5 L754.7,286.7 L750.1,269.9 L745.1,253.1 L739.7,236.4 L733.9,219.6 L727.9,202.8 L721.6,186 L715.2,169.3 L708.7,152.5 L702.2,135.7 L695.7,118.9 L689.4,102.2 L683.2,85.4 L677.1,68.6 L671.3,51.8 L665.7,35.1 L660.3,18.3 M783,840.3 L788.8,823.5 L794.5,806.7 L800.3,790 L806.2,773.2 L812,756.4 L817.9,739.6 L823.7,722.9 L829.6,706.1 L835.5,689.3 L841.4,672.5 L847.3,655.8 L853.2,639 L859,622.2 L864.9,605.4 L870.8,588.7 L876.6,571.9 L882.4,555.1 L888.2,538.3 L893.9,521.6 L899.6,504.8 L905.3,488 L910.9,471.2 L916.4,454.5 L921.9,437.7 L927.3,420.9 L932.6,404.1 L937.8,387.3 L942.9,370.6 L947.9,353.8 L952.8,337 L957.6,320.2 L962.2,303.5 L966.6,286.7 L970.8,269.9 L974.9,253.1 L978.7,236.4 L982.3,219.6 L985.6,202.8 L988.6,186 L991.3,169.3 L993.7,152.5 L995.7,135.7 L997.3,118.9 L998.5,102.2 L999.2,85.4 L999.4,68.6 L999.1,51.8 L998.2,35.1 L996.8,18.3 M865.9,840.3 L872.5,823.5 L879.1,806.7 L885.7,790 L892.4,773.2 L899.2,756.4 L906,739.6 L912.9,722.9 L919.8,706.1 L926.8,689.3 L933.8,672.5 L940.8,655.8 L947.9,639 L955,622.2 L962.2,605.4 L969.4,588.7 L976.6,571.9 L983.9,555.1 L991.2,538.3 L998.6,521.6 L1006,504.8 L1013.4,488 L1020.8,471.2 L1028.3,454.5 L1035.8,437.7 L1043.3,420.9 L1050.9,404.1 L1058.5,387.3 L1066.1,370.6 L1073.7,353.8 L1081.3,337 L1088.9,320.2 L1096.6,303.5 L1104.2,286.7 L1111.9,269.9 L1119.6,253.1 L1127.3,236.4 L1135,219.6 L1142.6,202.8 L1150.3,186 L1158,169.3 L1165.7,152.5 L1173.3,135.7 L1181,118.9 L1188.6,102.2 L1196.2,85.4 L1203.8,68.6 L1211.3,51.8 L1218.8,35.1 L1226.3,18.3" stroke="#c88c8c" stroke-width="0.9" stroke-dasharray="11,4.5" stroke-dashoffset="7.7"/>
<path d="M-643.7,857.7 L195.7,18.3 M-560.8,857.7 L278.6,18.3 M-477.9,857.7 L361.5,18.3 M-395,857.7 L444.4,18.3 M-312.1,857.7 L527.3,18.3 M-229.2,857.7 L610.2,18.3 M-146.3,857.7 L693.1,18.3 M-63.4,857.7 L776,18.3 M19.5,857.7 L858.9,18.3 M102.4,857.7 L941.8,18.3 M185.3,857.7 L1024.7,18.3 M268.2,857.7 L1107.6,18.3 M351.1,857.7 L1190.5,18.3 M516.9,857.7 L1356.3,18.3 M599.8,857.7 L1439.2,18.3 M682.7,857.7 L1522.1,18.3 M765.6,857.7 L1605,18.3 M848.5,857.7 L1687.9,18.3" stroke="#a4a4a4" stroke-width="1"/>
<path d="M60,410.48 H933" stroke="#d48686" stroke-width="1.1" stroke-dasharray="13,3"/>
<path d="M60,265.73 H933" stroke="#d48686" stroke-width="1.1" stroke-dasharray="13,3"/>
<path d="M434,857.7 L1273.4,18.3" stroke="#5a60cc" stroke-width="1.1" stroke-dasharray="11.5,4"/>
<path d="M575.5,857.4 L570.7,844.7 L512.9,309.9 L804.5,18.3" stroke="#7a7a7a" stroke-width="1.6"/>
<path d="M342.6,163.03 L347.43,171.6 L352.26,180.17 L357.1,188.75 L361.94,197.32 L366.79,205.89 L371.65,214.47 L376.53,223.04 L381.42,231.61 L386.34,240.19 L391.27,248.76 L396.22,257.33 L401.2,265.9 L406.21,274.48 L411.24,283.05 L416.29,291.62 L421.37,300.2 L426.46,308.77 L431.58,317.34 L436.7,325.92 L441.85,334.49 L447,343.06 L452.16,351.64 L457.32,360.21 L462.47,368.78 L467.6,377.35 L472.69,385.93 L477.74,394.5 L482.74,403.07 L487.67,411.65 L492.52,420.22 L497.32,428.79 L502.07,437.37 L506.81,445.94 L511.53,454.51 L516.27,463.09 L521.03,471.66 L525.83,480.23 L530.69,488.8 L535.63,497.38 L540.67,505.95 L545.81,514.52 L551.07,523.1 L556.43,531.67 L561.86,540.24 L567.34,548.82 L572.84,557.39 L578.33,565.96 L583.81,574.54 L589.23,583.11 L594.58,591.68 L599.84,600.25 L605.04,608.83 L610.23,617.4 L615.46,625.97 L620.79,634.55 L626.26,643.12 L631.93,651.69 L637.83,660.27 L644.01,668.84 L650.43,677.41 L657.06,685.98 L663.88,694.56 L670.85,703.13 L677.95,711.7 L685.14,720.28 L692.4,728.85 L699.7,737.42 L707.01,746 L714.31,754.57 L721.55,763.14 L728.72,771.72 L735.78,780.29 L742.71,788.86 L749.55,797.43 L756.36,806.01 L763.19,814.58 L770.09,823.15 L777.03,831.73 L784,840.3" stroke="#f3f590" stroke-width="2"/>
</g>
<g stroke-linecap="round" fill="none">
<path d="M461.7,829.8 L478.3,812.4" stroke="#b4dca8" stroke-width="5"/>
<path d="M478.3,812.4 L489.1,802.3" stroke="#bcd0a0" stroke-width="5"/>
<path d="M489.1,802.3 L497.8,793.7" stroke="#c88860" stroke-width="5.5"/>
<path d="M531,760.4 L554.8,737" stroke="#c4d0a0" stroke-width="5"/>
<path d="M497.8,793.7 L531,760.4" stroke="#e63c2c" stroke-width="6"/>
</g>
<path d="M461.7,829.8 L554.8,737" stroke="#6a7a9a" stroke-width="0.8" stroke-dasharray="6,5" fill="none" opacity="0.7"/>
<path d="M450,840.3 L435.3,821.99 L431,812.47 L441.8,782.28 L428.2,712.97 L454.7,657.94 L468.8,592.85 L440.4,513.18 L351.1,410.48 L353.4,345.39 L400.3,265.73 L459.8,163.03" fill="none" stroke="#e01414" stroke-width="2" stroke-linejoin="round"/>
<path d="M465.6,840.3 L453.1,812.47 L443.3,782.28 L464.8,712.97 L476.3,657.94 L477,592.85 L457.8,513.18 L516,410.48 L600.9,345.39 L680.3,265.73 L784,163.03" fill="none" stroke="#000" stroke-width="2" stroke-linejoin="round"/>
<path d="M453.1,830.3 H470" stroke="#000" stroke-width="1.2"/>
<path d="M849.5,163.3 L826.9,153.2 M826.9,153.2 l-0.99,-9.55 M849.5,265.6 L826.2,260.3 M826.2,260.3 l-2.84,-9.17 M829.71,261.1 l-1.42,-4.59 M849.5,345.5 L825.3,341.4 M825.3,341.4 l-3.34,-9 M828.85,342 l-1.67,-4.5 M849.5,410.5 L825.3,414.7 M825.3,414.7 l-6.15,-7.37 M828.85,414.08 l-6.15,-7.37 M832.39,413.47 l-3.08,-3.69 M849.5,513.3 L824.9,514.1 M824.9,514.1 l-5.07,-8.15 M828.5,513.98 l-5.07,-8.15 M849.8,592.9 L824.9,591.8 M824.9,591.8 l-4.43,-8.52 M828.5,591.96 l-4.43,-8.52 M849.8,658 L824.2,658.3 M824.2,658.3 l-4.9,-8.26 M827.8,658.26 l-4.9,-8.26 M831.4,658.22 l-2.45,-4.13 M849.5,712.9 L825.3,717.2 M825.3,717.2 l-6.18,-7.35 M828.84,716.57 l-6.18,-7.35 M832.39,715.94 l-3.09,-3.67 M849.8,782.3 L825.1,783.5 M825.1,783.5 l-5.2,-8.07 M828.7,783.33 l-5.2,-8.07 M832.29,783.15 l-5.2,-8.07 M849.5,812.4 L826,819.8 M826,819.8 l-7.08,-6.49 M829.43,818.72 l-7.08,-6.49 M832.87,817.64 l-3.54,-3.24 M849.3,822.3 L826.9,831.2 M826.9,831.2 l-7.53,-5.95 M830.25,829.87 l-7.53,-5.95 M849.4,840.2 L828.4,852.4 M828.4,852.4 l-8.33,-4.78" fill="none" stroke="#111" stroke-width="1.1" stroke-linecap="round" stroke-linejoin="round"/>
<path d="M849.7,258.5 l7,7.1 l-7,7.1 l-7,-7.1 Z" fill="none" stroke="#111" stroke-width="1.1"/>
<path d="M848.3,261.7 H851 M848.7,261.7 V268 M848.7,265.6 H850.3" fill="none" stroke="#222" stroke-width="0.9"/>
<path d="M849.7,403.3 l7,7.1 l-7,7.1 l-7,-7.1 Z" fill="none" stroke="#111" stroke-width="1.1"/>
<path d="M848.3,406.5 H851 M848.7,406.5 V412.8 M848.7,410.4 H850.3" fill="none" stroke="#222" stroke-width="0.9"/>
<g font-family="Liberation Sans, Arial, sans-serif" fill="#111"><text x="62.3" y="816.27" font-size="10.5" text-anchor="start">925[hPa]</text><text x="62.3" y="786.08" font-size="10.5" text-anchor="start">850[hPa]</text><text x="62.3" y="716.77" font-size="10.5" text-anchor="start">700[hPa]</text><text x="62.3" y="661.74" font-size="10.5" text-anchor="start">600[hPa]</text><text x="62.3" y="596.65" font-size="10.5" text-anchor="start">500[hPa]</text><text x="62.3" y="516.98" font-size="10.5" text-anchor="start">400[hPa]</text><text x="62.3" y="414.28" font-size="10.5" text-anchor="start">300[hPa]</text><text x="62.3" y="349.19" font-size="10.5" text-anchor="start">250[hPa]</text><text x="62.3" y="269.53" font-size="10.5" text-anchor="start">200[hPa]</text><text x="62.3" y="836.8" font-size="10.5" text-anchor="start">1000[hPa]</text><text x="931.6" y="160.03" font-size="9.5" text-anchor="end" letter-spacing="0.75">44175ft</text><text x="931.6" y="262.73" font-size="9.5" text-anchor="end" letter-spacing="0.75">37765ft</text><text x="931.6" y="342.39" font-size="9.5" text-anchor="end" letter-spacing="0.75">32795ft</text><text x="931.6" y="407.48" font-size="9.5" text-anchor="end" letter-spacing="0.75">28755ft</text><text x="931.6" y="510.18" font-size="9.5" text-anchor="end" letter-spacing="0.75">22395ft</text><text x="931.6" y="589.85" font-size="9.5" text-anchor="end" letter-spacing="0.75">17240ft</text><text x="931.6" y="654.94" font-size="9.5" text-anchor="end" letter-spacing="0.75">12850ft</text><text x="931.6" y="709.97" font-size="9.5" text-anchor="end" letter-spacing="0.75">9050ft</text><text x="931.6" y="779.28" font-size="9.5" text-anchor="end" letter-spacing="0.75">4155ft</text><text x="931.6" y="809.47" font-size="9.5" text-anchor="end" letter-spacing="0.75">1980ft</text><text x="931" y="36.7" font-size="9.2" text-anchor="end">-40</text><text x="931" y="119.6" font-size="9.2" text-anchor="end">-30</text><text x="931" y="202.5" font-size="9.2" text-anchor="end">-20</text><text x="931" y="285.4" font-size="9.2" text-anchor="end">-10</text><text x="931" y="368.3" font-size="9.2" text-anchor="end">0</text><text x="931" y="451.2" font-size="9.2" text-anchor="end">10</text><text x="931" y="534.1" font-size="9.2" text-anchor="end">20</text><text x="931" y="617" font-size="9.2" text-anchor="end">30</text><text x="931" y="699.9" font-size="9.2" text-anchor="end">40</text><text x="931" y="782.8" font-size="9.2" text-anchor="end">50</text><text x="107.6" y="853.8" font-size="9.1" text-anchor="middle">-40</text><text x="190.5" y="853.8" font-size="9.1" text-anchor="middle">-30</text><text x="273.4" y="853.8" font-size="9.1" text-anchor="middle">-20</text><text x="356.3" y="853.8" font-size="9.1" text-anchor="middle">-10</text><text x="439.2" y="853.8" font-size="9.1" text-anchor="middle">0</text><text x="522.1" y="853.8" font-size="9.1" text-anchor="middle">10</text><text x="605" y="853.8" font-size="9.1" text-anchor="middle">20</text><text x="687.9" y="853.8" font-size="9.1" text-anchor="middle">30</text><text x="770.8" y="853.8" font-size="9.1" text-anchor="middle">40</text><text x="853.7" y="853.8" font-size="9.1" text-anchor="middle">50</text></g>
<g font-family="Liberation Sans, Arial, sans-serif" fill="#111"><text transform="translate(128.6,842) rotate(-52.23)" font-size="8.9" text-anchor="middle" dy="3.2">0.125</text><text transform="translate(170,846.5) rotate(-52.8)" font-size="8.9" text-anchor="middle" dy="3.2">0.25</text><text transform="translate(235.5,851.6) rotate(-53.43)" font-size="8.9" text-anchor="middle" dy="3.2">0.5</text><text transform="translate(300,851.7) rotate(-54.15)" font-size="8.9" text-anchor="middle" dy="3.2">1</text><text transform="translate(372,852) rotate(-54.96)" font-size="8.9" text-anchor="middle" dy="3.2">2</text><text transform="translate(448,852.2) rotate(-55.89)" font-size="8.9" text-anchor="middle" dy="3.2">4</text><text transform="translate(621,851.4) rotate(-58.21)" font-size="8.9" text-anchor="middle" dy="3.2">16</text><text transform="translate(718.3,852.4) rotate(-59.67)" font-size="8.9" text-anchor="middle" dy="3.2">32</text><text transform="translate(821.5,852.5) rotate(-61.4)" font-size="8.9" text-anchor="middle" dy="3.2">64</text></g>
<g font-family="Liberation Sans, Arial, sans-serif" fill="#222"><text transform="translate(92,785.7) rotate(65.16)" font-size="8" text-anchor="middle" dy="2.9">-40</text><text transform="translate(146.1,729.9) rotate(65.28)" font-size="8" text-anchor="middle" dy="2.9">-30</text><text transform="translate(201.5,674) rotate(65.43)" font-size="8" text-anchor="middle" dy="2.9">-20</text><text transform="translate(262.5,614) rotate(65.63)" font-size="8" text-anchor="middle" dy="2.9">-10</text><text transform="translate(331.8,543.4) rotate(65.91)" font-size="8" text-anchor="middle" dy="2.9">0</text><text transform="translate(422,460) rotate(66.33)" font-size="8" text-anchor="middle" dy="2.9">10</text><text transform="translate(541.5,340.4) rotate(67.14)" font-size="8" text-anchor="middle" dy="2.9">20</text><text transform="translate(712.5,169.5) rotate(68.94)" font-size="8" text-anchor="middle" dy="2.9">30</text></g>
</svg>
<div class="box"><div class="ttl">Sounding Indexes</div>
<div class="r" style="top:23.00px"><span class="k">Name</span><span class="v">brainard_sund</span></div>
<div class="r" style="top:37.00px"><span class="k">Position</span><span class="v">82°57'N 41°25'W</span></div>
<div class="r" style="top:51.00px"><span class="k">KINX</span><span class="v">6.2</span></div>
<div class="r" style="top:65.00px"><span class="k">CTOT</span><span class="v red">18.5</span></div>
<div class="r" style="top:79.00px"><span class="k">VTOT</span><span class="v">18.8</span></div>
<div class="r" style="top:93.00px"><span class="k">TTOT</span><span class="v">37.4</span></div>
<div class="r" style="top:107.00px"><span class="k">SHOW</span><span class="v">13.7</span></div>
<div class="r" style="top:121.00px"><span class="k">WBZ</span><span class="v red">305ft</span></div>
<div class="r" style="top:135.00px"><span class="k">BOYDEN</span><span class="v">91.3</span></div>
<div class="r" style="top:149.00px"><span class="k">PWAT</span><span class="v">10.2 kg/m²</span></div>
<div class="r" style="top:163.00px"><span class="k">SWEAT</span><span class="v">78</span></div>
<div class="r" style="top:177.00px"><span class="k">Zero Degree (A)</span><span class="v">670ft</span></div>
<div class="r" style="top:191.00px"><span class="k">TROPO(A)</span><span class="v">28755ft</span></div>
<div class="r" style="top:204.00px"><span class="k">TROPO(B)</span><span class="v">37765ft</span></div>
<div class="r" style="top:218.00px"><span class="k">TH850</span><span class="v">4215ft</span></div>
<div class="r" style="top:232.00px"><span class="k">TH500</span><span class="v">17300ft</span></div>
</div>
<div class="ftl"></div><div class="ftr"></div>
<svg style="position:absolute;left:0;top:870px" width="30" height="30" viewBox="0 870 30 30">
<path d="M15.1,876.2 L15.1,882.6 L18.9,879.4 Z" fill="#b8c4d2"/>
<path d="M8.1,886.7 L14.9,886.7 L11.5,883 Z" fill="#8d9db0"/>
<path d="M19.1,883.3 L26.1,883.3 L22.5,886.9 Z" fill="#0f3c68"/>
<path d="M18.9,886.1 L18.9,894.9 L15.3,890.5 Z" fill="#3d6690"/>
</svg>
<div class="vt" style="top:876.8px">Veðurstofa</div>
<div class="vt" style="top:885.3px">Íslands</div>
<div class="date">Mán 8 Jún 00:00</div>
</body></html>
